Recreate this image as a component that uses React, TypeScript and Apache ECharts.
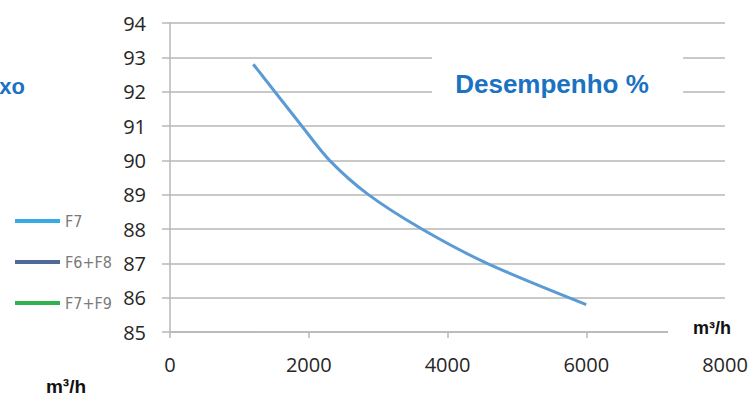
import React, { useEffect, useRef } from "react";
import * as echarts from "echarts";

const flowValues = [1200, 1900, 2300, 2860, 3630, 4570, 6000];
const efficiencyValues = [92.8, 91, 90, 89, 88, 87, 85.8];
const legendNames = ["F7", "F6+F8", "F7+F9"];
const legendColors = ["#36abe6", "#4e6b98", "#2fb250"];
const titleText = "Desempenho %";
const unitText = "m³/h";
const leftFragment = "xo";

export default function App() {
  const ref = useRef<HTMLDivElement>(null);
  useEffect(() => {
    if (!ref.current) return;
    const chart = echarts.init(ref.current, null, { renderer: "svg" });
    const labelFont = "'Open Sans', 'Noto Sans', sans-serif";
    const gridColor = "#b7b7b7";
    chart.setOption({
      animation: false,
      backgroundColor: "#ffffff",
      grid: { left: 170, right: 28, top: 23, bottom: 64 },
      xAxis: {
        type: "value",
        min: 0,
        max: 8000,
        interval: 2000,
        axisLine: { show: true, lineStyle: { color: gridColor, width: 1.5 } },
        axisTick: { show: true, length: 6, lineStyle: { color: gridColor, width: 1.5 } },
        splitLine: { show: false },
        axisLabel: {
          margin: 32,
          verticalAlign: "middle",
          fontSize: 20,
          color: "#262626",
          fontFamily: labelFont,
          formatter: (v: number) => String(v),
        },
      },
      yAxis: {
        type: "value",
        min: 85,
        max: 94,
        interval: 1,
        axisLine: { show: true, lineStyle: { color: gridColor, width: 1.5 } },
        axisTick: { show: true, length: 8, lineStyle: { color: gridColor, width: 1.5 } },
        splitLine: { show: true, lineStyle: { color: gridColor, width: 1.5 } },
        axisLabel: {
          margin: 24,
          fontSize: 20,
          color: "#262626",
          fontFamily: labelFont,
        },
      },
      legend: {
        data: legendNames,
        orient: "vertical",
        left: 10,
        top: 207,
        itemWidth: 45,
        itemHeight: 4,
        itemGap: 23,
        icon: "rect",
        textStyle: {
          fontSize: 16,
          lineHeight: 18,
          color: "#7a7a7a",
          fontFamily: "'Liberation Sans Narrow', 'DejaVu Sans Condensed', sans-serif",
        },
      },
      series: [
        {
          name: "Desempenho",
          type: "line",
          smooth: 0.3,
          showSymbol: false,
          data: flowValues.map((x, i) => [x, efficiencyValues[i]]),
          lineStyle: { color: "#5b9bd5", width: 3 },
          itemStyle: { color: "#5b9bd5" },
        },
        ...legendNames.map((n, i) => ({
          name: n,
          type: "line",
          data: [],
          showSymbol: false,
          lineStyle: { color: legendColors[i], width: 4 },
          itemStyle: { color: legendColors[i] },
        })),
      ],
      graphic: [
        {
          type: "rect",
          z: 100,
          shape: { x: 432, y: 53, width: 251, height: 46 },
          style: { fill: "#ffffff" },
        },
        {
          type: "text",
          z: 101,
          x: 552,
          y: 84,
          style: {
            text: titleText,
            fill: "#1b72c2",
            font: "bold 26px 'Liberation Sans', Arial, sans-serif",
            textAlign: "center",
            textVerticalAlign: "middle",
          },
        },
        {
          type: "text",
          z: 101,
          x: 25,
          y: 86,
          style: {
            text: leftFragment,
            fill: "#1b72c2",
            font: "bold 22px 'Liberation Sans', Arial, sans-serif",
            textAlign: "right",
            textVerticalAlign: "middle",
          },
        },
        {
          type: "rect",
          z: 100,
          shape: { x: 668, y: 316, width: 85, height: 30 },
          style: { fill: "#ffffff" },
        },
        {
          type: "text",
          z: 101,
          x: 712,
          y: 328,
          style: {
            text: unitText,
            fill: "#111111",
            font: "bold 18px 'Liberation Sans', Arial, sans-serif",
            textAlign: "center",
            textVerticalAlign: "middle",
          },
        },
        {
          type: "text",
          z: 101,
          x: 66,
          y: 386,
          style: {
            text: unitText,
            fill: "#111111",
            font: "bold 19px 'Liberation Sans', Arial, sans-serif",
            textAlign: "center",
            textVerticalAlign: "middle",
          },
        },
      ],
    });
    return () => chart.dispose();
  }, []);
  return (
    <div
      ref={ref}
      style={{ position: "absolute", left: 0, top: 0, width: 753, height: 396 }}
    />
  );
}
